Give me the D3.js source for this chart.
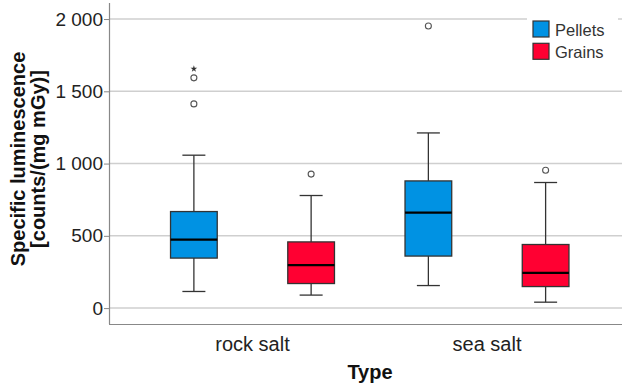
<!DOCTYPE html>
<html>
<head>
<meta charset="utf-8">
<script src="https://cdn.jsdelivr.net/npm/d3@7"></script>
<style>
  body { margin: 0; background: #fff; }
  svg { display: block; font-family: "Liberation Sans", Arial, sans-serif; }
</style>
</head>
<body>
<svg id="chart" width="622" height="388"></svg>
<script>
// categories and series
var categories = ["rock salt", "sea salt"];
var series = ["Pellets", "Grains"];
var colors = ["#0092e3", "#ff0032"];

// box stats per series, one value per category
var whiskLow  = { Pellets: [115, 156],  Grains: [90, 41] };
var q1        = { Pellets: [346, 360],  Grains: [170, 149] };
var median    = { Pellets: [474, 661],  Grains: [297, 244] };
var q3        = { Pellets: [668, 880],  Grains: [458, 440] };
var whiskHigh = { Pellets: [1058, 1212], Grains: [779, 869] };
var outliers  = { Pellets: [[1413, 1593], [1952]], Grains: [[927], [954]] };
var extremes  = { Pellets: [[1655], []], Grains: [[], []] };

var yTicks = [0, 500, 1000, 1500, 2000];

var svg = d3.select("#chart");
var plotLeft = 109, plotRight = 630.5, plotTop = 3, plotBottom = 324;

var x = d3.scaleBand().domain(categories).range([plotLeft, plotRight]).paddingInner(0).paddingOuter(0.112);
var xs = d3.scalePoint().domain(series).range([0, x.bandwidth()]).padding(0.5);
var y = d3.scaleLinear().domain([-110, 2111]).range([plotBottom, plotTop]);

var fmt = d3.formatLocale({ decimal: ",", thousands: " ", grouping: [3], currency: ["", ""] }).format(",d");

// gridlines
svg.append("g").selectAll("line").data(yTicks).enter().append("line")
  .attr("x1", plotLeft).attr("x2", 622)
  .attr("y1", function(d) { return y(d); }).attr("y2", function(d) { return y(d); })
  .attr("stroke", "#cfcfcf").attr("stroke-width", 1.5);

// y axis
var yAxis = svg.append("g").attr("transform", "translate(" + plotLeft + ",0)")
  .call(d3.axisLeft(y).tickValues(yTicks).tickSize(5).tickPadding(1).tickFormat(fmt));
yAxis.select(".domain").remove();
yAxis.selectAll(".tick line").attr("stroke", "#888");
yAxis.selectAll(".tick text").attr("font-size", 19).attr("fill", "#222").attr("font-family", "Liberation Sans, Arial, sans-serif");

svg.append("line").attr("x1", plotLeft + 0.5).attr("x2", plotLeft + 0.5).attr("y1", plotTop).attr("y2", plotBottom)
  .attr("stroke", "#888").attr("stroke-width", 1.2);
svg.append("line").attr("x1", plotLeft).attr("x2", 622).attr("y1", plotBottom + 0.5).attr("y2", plotBottom + 0.5)
  .attr("stroke", "#888").attr("stroke-width", 1.2);

// boxes
var boxW = 46.7, capW = 23;
var boxes = [];
series.forEach(function(s, si) {
  categories.forEach(function(c, ci) {
    boxes.push({ s: s, si: si, c: c, ci: ci });
  });
});

var g = svg.append("g").selectAll("g").data(boxes).enter().append("g")
  .attr("transform", function(d) { return "translate(" + (x(d.c) + xs(d.s)) + ",0)"; });

// whiskers
g.append("line").attr("x1", 0).attr("x2", 0)
  .attr("y1", function(d) { return y(whiskHigh[d.s][d.ci]); })
  .attr("y2", function(d) { return y(q3[d.s][d.ci]); })
  .attr("stroke", "#333").attr("stroke-width", 1.3);
g.append("line").attr("x1", 0).attr("x2", 0)
  .attr("y1", function(d) { return y(q1[d.s][d.ci]); })
  .attr("y2", function(d) { return y(whiskLow[d.s][d.ci]); })
  .attr("stroke", "#333").attr("stroke-width", 1.3);
g.append("line").attr("x1", -capW / 2).attr("x2", capW / 2)
  .attr("y1", function(d) { return y(whiskHigh[d.s][d.ci]); })
  .attr("y2", function(d) { return y(whiskHigh[d.s][d.ci]); })
  .attr("stroke", "#333").attr("stroke-width", 1.3);
g.append("line").attr("x1", -capW / 2).attr("x2", capW / 2)
  .attr("y1", function(d) { return y(whiskLow[d.s][d.ci]); })
  .attr("y2", function(d) { return y(whiskLow[d.s][d.ci]); })
  .attr("stroke", "#333").attr("stroke-width", 1.3);

g.append("rect").attr("x", -boxW / 2).attr("width", boxW)
  .attr("y", function(d) { return y(q3[d.s][d.ci]); })
  .attr("height", function(d) { return y(q1[d.s][d.ci]) - y(q3[d.s][d.ci]); })
  .attr("fill", function(d) { return colors[d.si]; })
  .attr("stroke", "#333").attr("stroke-width", 1.3);

g.append("line").attr("x1", -boxW / 2).attr("x2", boxW / 2)
  .attr("y1", function(d) { return y(median[d.s][d.ci]); })
  .attr("y2", function(d) { return y(median[d.s][d.ci]); })
  .attr("stroke", "#000").attr("stroke-width", 2.2);

// outliers
g.each(function(d) {
  var node = d3.select(this);
  node.selectAll("circle").data(outliers[d.s][d.ci]).enter().append("circle")
    .attr("cx", 0).attr("cy", function(v) { return y(v); }).attr("r", 3)
    .attr("fill", "#fff").attr("stroke", "#555").attr("stroke-width", 1.1);
  node.selectAll("path.ext").data(extremes[d.s][d.ci]).enter().append("path")
    .attr("class", "ext")
    .attr("transform", function(v) { return "translate(0," + y(v) + ")"; })
    .attr("d", d3.symbol().type(d3.symbolStar).size(14))
    .attr("fill", "#333");
});

// category labels
svg.append("g").selectAll("text").data(categories).enter().append("text")
  .attr("x", function(d) { return x(d) + x.bandwidth() / 2; })
  .attr("y", 351).attr("text-anchor", "middle")
  .attr("font-size", 20).attr("fill", "#222").text(function(d) { return d; });

svg.append("text").attr("x", 370).attr("y", 379).attr("text-anchor", "middle")
  .attr("font-size", 20).attr("font-weight", "bold").attr("fill", "#111").text("Type");

var yt = svg.append("text").attr("transform", "translate(25,159) rotate(-90)")
  .attr("text-anchor", "middle").attr("font-size", 20).attr("font-weight", "bold").attr("fill", "#111");
yt.append("tspan").attr("x", 0).attr("dy", 0).text("Specific luminescence");
yt.append("tspan").attr("x", 0).attr("dy", 20).text("[counts/(mg mGy)]");

// legend
var lg = svg.append("g");
lg.append("rect").attr("x", 527).attr("y", 14).attr("width", 91).attr("height", 52).attr("fill", "#fff");
var li = lg.selectAll("g").data(series).enter().append("g")
  .attr("transform", function(d, i) { return "translate(533," + (21 + i * 22.3) + ")"; });
li.append("rect").attr("width", 16).attr("height", 16)
  .attr("fill", function(d, i) { return colors[i]; }).attr("stroke", "#333").attr("stroke-width", 1.2);
li.append("text").attr("x", 22).attr("y", 15).attr("font-size", 16.5).attr("fill", "#333")
  .text(function(d) { return d; });
</script>
</body>
</html>
